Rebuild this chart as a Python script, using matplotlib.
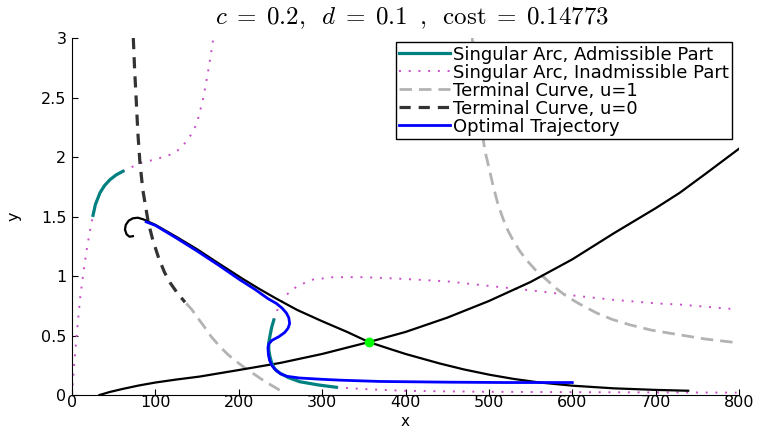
# phase plane with singular arcs, terminal curves and the optimal trajectory
# c = 0.2, d = 0.1

import matplotlib
matplotlib.use('Agg')
import matplotlib.pyplot as plt

# black curves (no legend entry)
x_rise = [33, 45, 60, 80, 100, 125, 153, 200, 250, 300, 356, 400, 450, 500, 550, 600, 650, 700, 729, 760, 800]
y_rise = [0, 0.025, 0.05, 0.08, 0.105, 0.13, 0.155, 0.21, 0.27, 0.345, 0.445, 0.53, 0.65, 0.79, 0.95, 1.14, 1.36, 1.57, 1.70, 1.86, 2.07]

x_fall = [73, 69, 65.5, 63.5, 64.5, 68, 73, 79, 86, 92, 100, 125, 150, 175, 205, 225, 245, 270, 300, 330, 356, 380, 400, 441, 470, 501, 530, 561, 601, 650, 700, 739]
y_fall = [1.335, 1.33, 1.35, 1.39, 1.43, 1.465, 1.485, 1.49, 1.475, 1.455, 1.43, 1.33, 1.225, 1.11, 0.975, 0.89, 0.81, 0.715, 0.62, 0.53, 0.445, 0.39, 0.345, 0.265, 0.215, 0.17, 0.135, 0.105, 0.078, 0.056, 0.043, 0.036]

# optimal trajectory
x_opt = [89, 100, 125, 150, 175, 201, 220, 235, 245, 252, 257, 260, 261, 259, 255, 248, 240, 236, 235, 235.5, 237, 240, 245, 251, 258, 273, 300, 321, 369, 450, 520, 600]
y_opt = [1.455, 1.425, 1.32, 1.21, 1.095, 0.97, 0.885, 0.81, 0.77, 0.73, 0.69, 0.65, 0.60, 0.56, 0.525, 0.49, 0.46, 0.43, 0.40, 0.34, 0.29, 0.245, 0.205, 0.175, 0.157, 0.143, 0.132, 0.125, 0.114, 0.108, 0.105, 0.105]

# singular arc, admissible part (two pieces)
x_adm_top = [25.2, 28, 33.6, 39, 45.6, 53, 61]
y_adm_top = [1.51, 1.60, 1.70, 1.76, 1.81, 1.85, 1.88]
x_adm_low = [242, 239.5, 237.5, 236, 236, 237.5, 239.5, 243, 249, 260, 273, 295, 317]
y_adm_low = [0.63, 0.57, 0.50, 0.44, 0.38, 0.32, 0.27, 0.22, 0.185, 0.145, 0.112, 0.085, 0.065]

# singular arc, inadmissible part (four pieces)
x_inad_left = [0, 1, 2.5, 4.5, 7.5, 10, 13.5, 17.6, 21.5, 25.2]
y_inad_left = [0, 0.1, 0.25, 0.42, 0.65, 0.83, 1.02, 1.22, 1.38, 1.51]
x_inad_top = [61, 70, 82, 100, 118, 130, 138, 145, 150, 157, 163, 167, 169.5]
y_inad_top = [1.88, 1.91, 1.95, 1.98, 2.02, 2.07, 2.14, 2.21, 2.29, 2.48, 2.71, 2.88, 3.0]
x_inad_mid = [242, 243.5, 247, 252, 257, 265, 273, 289, 313, 350, 369, 400, 450, 489, 550, 609, 650, 701, 729, 797]
y_inad_mid = [0.63, 0.66, 0.73, 0.79, 0.84, 0.89, 0.925, 0.97, 0.99, 0.99, 0.985, 0.975, 0.955, 0.925, 0.88, 0.83, 0.80, 0.77, 0.76, 0.72]
x_inad_bot = [317, 350, 400, 500, 600, 700, 797]
y_inad_bot = [0.065, 0.05, 0.035, 0.027, 0.024, 0.022, 0.02]

# terminal curve u=1 (two pieces)
x_term1_low = [137, 143.5, 150, 157.5, 167, 177.5, 187, 197.5, 207, 217.5, 231, 245.5, 249]
y_term1_low = [0.77, 0.72, 0.655, 0.585, 0.49, 0.406, 0.34, 0.28, 0.23, 0.18, 0.115, 0.056, 0.04]
x_term1_up = [480, 484, 489, 495, 505, 511, 517, 523, 529, 537, 545, 556, 569, 580, 593, 610, 629, 648, 669, 695, 725, 760, 797]
y_term1_up = [3.0, 2.65, 2.35, 2.06, 1.76, 1.60, 1.48, 1.38, 1.30, 1.21, 1.135, 1.05, 0.97, 0.90, 0.83, 0.76, 0.69, 0.635, 0.59, 0.545, 0.51, 0.47, 0.44]

# terminal curve u=0
x_term0 = [73.5, 75, 77, 79, 81.5, 85, 91.5, 97, 104, 111, 118, 126, 135.5]
y_term0 = [3.0, 2.75, 2.48, 2.2, 1.95, 1.72, 1.45, 1.30, 1.15, 1.03, 0.94, 0.86, 0.78]

# equilibrium point
x_eq = [356]
y_eq = [0.445]

plt.rcParams['mathtext.fontset'] = 'cm'

fig = plt.figure(figsize=(7.58, 4.32), dpi=100)
ax = fig.add_axes([0.095, 0.0856, 0.88, 0.8264])

mag = '#c84cc8'
dotted = (0, (1, 4))

# inadmissible singular arc
l_inad, = ax.plot(x_inad_left, y_inad_left, color=mag, lw=1.4, ls=dotted,
                  label='Singular Arc, Inadmissible Part')
ax.plot(x_inad_top, y_inad_top, color=mag, lw=1.4, ls=dotted)
ax.plot(x_inad_mid, y_inad_mid, color=mag, lw=1.4, ls=dotted)
ax.plot(x_inad_bot, y_inad_bot, color=mag, lw=1.4, ls=dotted)

# terminal curves
l_t1, = ax.plot(x_term1_low, y_term1_low, color='#b3b3b3', lw=2.0, ls=(0, (4.5, 2.5)),
                label='Terminal Curve, u=1')
ax.plot(x_term1_up, y_term1_up, color='#b3b3b3', lw=2.0, ls=(0, (4.5, 2.5)))
l_t0, = ax.plot(x_term0, y_term0, color='#333333', lw=2.3, ls=(0, (3.5, 2.5)),
                label='Terminal Curve, u=0')

# black curves
ax.plot(x_rise, y_rise, color='k', lw=1.6)
ax.plot(x_fall, y_fall, color='k', lw=1.6)

# admissible singular arc
l_adm, = ax.plot(x_adm_top, y_adm_top, color='#008080', lw=2.3,
                 label='Singular Arc, Admissible Part')
ax.plot(x_adm_low, y_adm_low, color='#008080', lw=2.3)

# optimal trajectory
l_opt, = ax.plot(x_opt, y_opt, color='#0000ff', lw=2.0, label='Optimal Trajectory')

ax.plot(x_eq, y_eq, 'o', color='#00ff00', ms=6, mec='#00ff00')

# styling
ax.set_xlim(0, 800)
ax.set_ylim(0, 3)
ax.set_xticks(range(0, 801, 100))
ax.set_yticks([0, 0.5, 1, 1.5, 2, 2.5, 3])
ax.set_yticklabels(['0', '0.5', '1', '1.5', '2', '2.5', '3'])
ax.spines['top'].set_visible(False)
ax.spines['right'].set_visible(False)
ax.tick_params(direction='in', length=4, width=0.8, labelsize=11.5)
ax.tick_params(axis='x', pad=0)
ax.tick_params(axis='y', pad=4)
ax.set_xlabel('x', fontsize=11)
ax.set_ylabel('y', fontsize=11.5)
ax.xaxis.set_label_coords(0.5, -0.053)
ax.yaxis.set_label_coords(-0.075, 0.5)

fig.text(0.5435, 0.958,
         r'$c\;=\;0.2,\;\;d\;=\;0.1\;\;,\;\;\mathrm{cost}\;=\;0.14773$',
         ha='center', va='center', fontsize=18)

leg = ax.legend(handles=[l_adm, l_inad, l_t1, l_t0, l_opt], fontsize=13,
                loc='upper right', bbox_to_anchor=(732 / 758, 1 - 42 / 432),
                bbox_transform=fig.transFigure, borderaxespad=0, fancybox=False,
                edgecolor='k', framealpha=1, labelspacing=0.0, handlelength=2.8,
                handletextpad=0.15, borderpad=0.2)
leg.get_frame().set_linewidth(1.0)

fig.savefig('out.png', dpi=100)
